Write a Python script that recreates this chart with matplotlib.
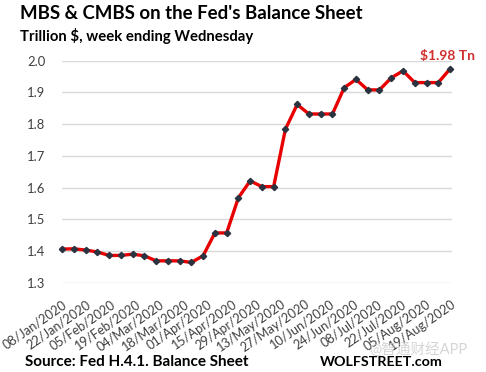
import numpy as np
import matplotlib
matplotlib.use("Agg")
import matplotlib.pyplot as plt

plt.rcParams["font.family"] = ["Lato", "Noto Sans CJK SC", "DejaVu Sans"]

# weekly values, trillion $
values = [1.406, 1.407, 1.403, 1.397, 1.386, 1.386, 1.390, 1.385, 1.369, 1.369,
          1.369, 1.364, 1.385, 1.457, 1.457, 1.568, 1.621, 1.603, 1.603, 1.784,
          1.862, 1.832, 1.832, 1.832, 1.915, 1.941, 1.908, 1.908, 1.946, 1.968,
          1.931, 1.931, 1.931, 1.974]
tick_labels = ["08/Jan/2020", "22/Jan/2020", "05/Feb/2020", "19/Feb/2020",
               "04/Mar/2020", "18/Mar/2020", "01/Apr/2020", "15/Apr/2020",
               "29/Apr/2020", "13/May/2020", "27/May/2020", "10/Jun/2020",
               "24/Jun/2020", "08/Jul/2020", "22/Jul/2020", "05/Aug/2020",
               "19/Aug/2020"]
y_ticks = [1.3, 1.4, 1.5, 1.6, 1.7, 1.8, 1.9, 2.0]
last_label = "$1.98 Tn"

fig = plt.figure(figsize=(4.86, 3.72), dpi=100)
ax = fig.add_axes([0.1276, 0.240, 0.8025, 0.5968])

x = np.arange(len(values))
ax.plot(x, values, color="#E80000", lw=2.4, solid_joinstyle="round",
        marker="D", ms=3.2, mfc="#2B3340", mec="#2B3340", clip_on=False, zorder=3)

ax.set_xlim(0, len(values) - 1 + 0.17)
ax.set_ylim(1.3, 2.0)
ax.set_yticks(y_ticks)
ax.set_yticklabels([f"{v:.1f}" for v in y_ticks], fontsize=9.4, color="#404040")
ax.yaxis.grid(True, color="#D9D9D9", lw=1)
ax.set_axisbelow(True)
ax.tick_params(axis="y", length=0, pad=12)

ax.set_xticks(np.linspace(0, len(values) - 1, len(tick_labels)))
ax.set_xticklabels(tick_labels, rotation=35, ha="right", va="top",
                   rotation_mode="anchor", fontsize=9.2, color="#404040")
ax.tick_params(axis="x", length=0, pad=11)

for s in ax.spines.values():
    s.set_visible(False)

ax.annotate(last_label, (x[-1], values[-1]), xytext=(-2, 5),
            textcoords="offset points", ha="center", va="bottom",
            fontsize=10, fontweight="bold", color="#D0302F", annotation_clip=False)

fig.text(0.041, 0.965, "MBS & CMBS on the Fed's Balance Sheet", fontsize=13.4,
         fontweight="bold", va="center", ha="left", color="black")
fig.text(0.041, 0.903, "Trillion $, week ending Wednesday", fontsize=10.7,
         fontweight="bold", va="center", ha="left", color="black")
fig.text(0.051, 0.027, "Source: Fed H.4.1. Balance Sheet", fontsize=11,
         fontweight="bold", va="center", ha="left", color="black")
fig.text(0.658, 0.028, "WOLFSTREET.com", fontsize=10.3,
         fontweight="bold", va="center", ha="left", color="black")
fig.text(0.76, 0.062, "@智通财经APP", fontsize=10.5, va="center", ha="left",
         color="#C4C4C4", alpha=0.7)

fig.savefig("out.png", dpi=100)
